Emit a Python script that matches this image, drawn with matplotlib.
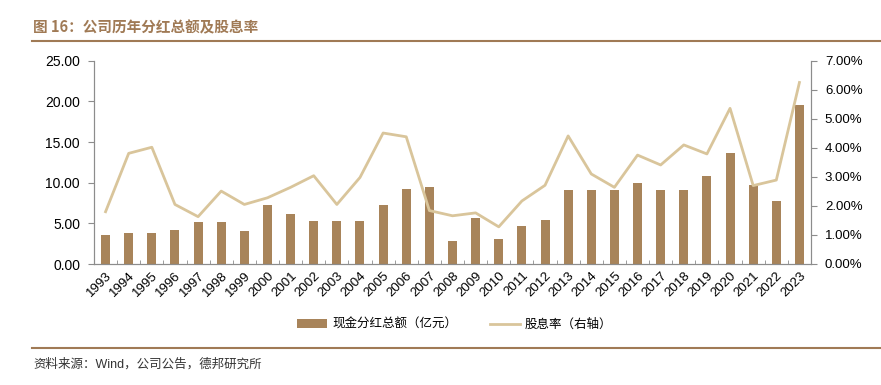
import matplotlib
matplotlib.use("Agg")
import matplotlib.pyplot as plt
from matplotlib.lines import Line2D
from matplotlib.patches import Patch
import numpy as np

plt.rcParams['font.family'] = ['Liberation Sans', 'Noto Sans CJK SC', 'DejaVu Sans']

years = [str(y) for y in range(1993, 2024)]
dividend = [3.6, 3.8, 3.8, 4.2, 5.2, 5.2, 4.0, 7.3, 6.2, 5.3, 5.3, 5.3, 7.2, 9.2, 9.5, 2.8,
            5.7, 3.1, 4.7, 5.4, 9.1, 9.1, 9.1, 10.0, 9.1, 9.1, 10.8, 13.6, 9.75, 7.8, 19.55]
yield_pct = [1.80, 3.81, 4.02, 2.05, 1.63, 2.51, 2.05, 2.28, 2.64, 3.04, 2.05, 2.98, 4.51, 4.38,
             1.84, 1.66, 1.76, 1.28, 2.17, 2.71, 4.41, 3.10, 2.64, 3.75, 3.41, 4.10, 3.79, 5.36,
             2.70, 2.89, 6.25]

title = "图 16：公司历年分红总额及股息率"
bar_label = "现金分红总额（亿元）"
line_label = "股息率（右轴）"
source = "资料来源：Wind，公司公告，德邦研究所"

bar_color = "#a8845a"
line_color = "#d9c59b"
brown = "#a07a55"
spine_c = "#8c8c8c"

fig = plt.figure(figsize=(8.81, 3.85), dpi=100)
ax = fig.add_axes([94/881, 1-264/385, (811-94)/881, (264-60.7)/385])
ax2 = ax.twinx()

x = np.arange(len(years))
ax.bar(x, dividend, width=0.39, color=bar_color, zorder=2)
ax2.plot(x, yield_pct, color=line_color, lw=2.0, zorder=3)

ax.set_xlim(-0.5, len(years)-0.5)
ax.set_ylim(0, 25)
ax.set_yticks(np.arange(0, 25.01, 5))
ax.set_yticklabels([f"{v:.2f}" for v in np.arange(0, 25.01, 5)], fontsize=10)
ax2.set_ylim(0, 7)
ax2.set_yticks(np.arange(0, 7.01, 1))
ax2.set_yticklabels([f"{v:.2f}%" for v in np.arange(0, 7.01, 1)], fontsize=9.5)

ax.set_xticks(x)
ax.set_xticklabels(years, rotation=45, ha='right', rotation_mode='anchor', fontsize=9.5)
ax.tick_params(axis='x', length=0, pad=4)
ax.set_xticks(np.arange(-0.5, len(years), 1), minor=True)
ax.tick_params(axis='x', which='minor', direction='in', length=3, color=spine_c)
ax.tick_params(axis='y', direction='out', length=4, color=spine_c, pad=6)
ax2.tick_params(axis='y', direction='out', length=4, color=spine_c, pad=6)

for a in (ax, ax2):
    a.spines['top'].set_visible(False)
    for s in ('left', 'right', 'bottom'):
        a.spines[s].set_color(spine_c)
        a.spines[s].set_linewidth(0.8)

# title and rules
fig.text(33/881, 1-27/385, title, fontsize=10.5, fontweight='bold', color=brown,
         va='center', ha='left', family=['Noto Sans CJK SC', 'Liberation Sans'])
fig.add_artist(Line2D([32/881, 1], [1-41/385, 1-41/385], color=brown, lw=1.5))
fig.add_artist(Line2D([32/881, 1], [1-348/385, 1-348/385], color=brown, lw=1.5))
fig.text(33/881, 1-364/385, source, fontsize=9, color="#333333", va='center', ha='left',
         family=['Liberation Sans', 'Noto Sans CJK SC'])

handles = [Patch(facecolor=bar_color, edgecolor='none'),
           Line2D([0], [0], color=line_color, lw=2.0)]
fig.legend(handles, [bar_label, line_label], loc='center', bbox_to_anchor=(455/881, 1-325/385),
           ncol=2, frameon=False, fontsize=9, handlelength=2.4, handleheight=0.7,
           columnspacing=2.6, handletextpad=0.4)

fig.savefig("out.png", dpi=100)
